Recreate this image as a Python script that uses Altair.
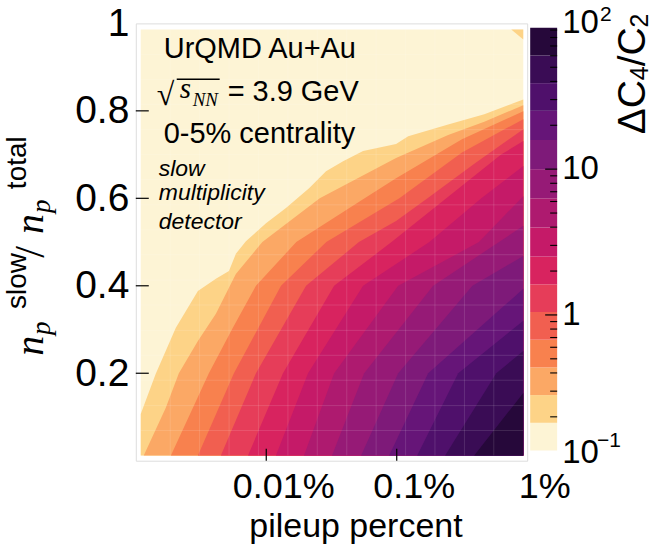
import altair as alt
import pandas as pd

SANS = "Liberation Sans"
SERIF = "Liberation Serif"

# ---------------- data ----------------
X_TICKS = [0.01, 0.1, 1.0]            # pileup percent
Y_TICKS = [0.2, 0.4, 0.6, 0.8, 1.0]
CB_MAJOR_TICKS = [1, 10]
CB_MINOR_TICKS = [0.2, 0.3, 0.4, 0.5, 0.6, 0.7, 0.8, 0.9,
                  2, 3, 4, 5, 6, 7, 8, 9,
                  20, 30, 40, 50, 60, 70, 80, 90]

# contour level edges, log10(dC4/C2)
LEVEL_EDGES_LOG = [-0.93, -0.74, -0.55, -0.36, -0.17, 0.02, 0.21, 0.40,
                   0.60, 0.80, 1.00, 1.20, 1.40, 1.59, 1.78, 1.97]
BAND_COLORS = ["#fdf4d5", "#fdd387", "#fba865", "#f8814e", "#f15f50",
               "#e63d59", "#d8235f", "#c51a68", "#ae1a6f", "#961a76",
               "#7e1a79", "#661578", "#4f106b", "#3a0c55", "#26083a"]

# extent of the contoured region: log10(pileup %) and n_p ratio
DATA_LOGX = [-2.962, -0.030]
DATA_Y = [0.012, 0.986]

# sampling mesh visible as faint lines
MESH_LOGX = [-2.736, -2.511, -2.285, -2.060, -1.834, -1.609, -1.383,
             -1.158, -0.932, -0.707, -0.481, -0.256]
MESH_Y = [0.069, 0.126, 0.184, 0.241, 0.298, 0.356, 0.413, 0.471, 0.528,
          0.585, 0.643, 0.700, 0.757, 0.815, 0.872, 0.929]

# contour boundaries (log10 pileup %, n_p slow / n_p total);
# band k lies below/right of boundary Bk
B01 = [(-2.962, 0.107), (-2.847, 0.199), (-2.693, 0.304), (-2.524, 0.388),
       (-2.386, 0.416), (-2.286, 0.434), (-2.233, 0.473), (-2.156, 0.502),
       (-2.002, 0.543), (-1.849, 0.578), (-1.672, 0.623), (-1.542, 0.662),
       (-1.411, 0.685), (-1.258, 0.708), (-1.005, 0.724), (-0.912, 0.742),
       (-0.606, 0.769), (-0.329, 0.792), (-0.030, 0.826)]
B02 = [(-2.939, 0.012), (-2.770, 0.121), (-2.670, 0.200), (-2.524, 0.274),
       (-2.386, 0.336), (-2.233, 0.427), (-2.030, 0.500), (-1.590, 0.600),
       (-1.005, 0.692), (-0.606, 0.745), (-0.329, 0.775), (-0.030, 0.813)]
B03 = [(-2.731, 0.012), (-2.440, 0.200), (-2.256, 0.304), (-2.079, 0.400),
       (-1.770, 0.500), (-1.246, 0.600), (-1.005, 0.646), (-0.500, 0.735),
       (-0.030, 0.799)]
B04 = [(-2.524, 0.012), (-2.248, 0.200), (-1.887, 0.400), (-1.540, 0.500),
       (-0.980, 0.600), (-0.500, 0.705), (-0.030, 0.781)]
B05 = [(-2.348, 0.012), (-2.079, 0.200), (-1.695, 0.400), (-1.290, 0.500),
       (-1.005, 0.548), (-0.764, 0.600), (-0.400, 0.680), (-0.030, 0.758)]
B06 = [(-2.140, 0.012), (-1.872, 0.200), (-1.480, 0.400), (-1.040, 0.500),
       (-0.620, 0.600), (-0.200, 0.700), (-0.030, 0.731)]
B07 = [(-1.926, 0.012), (-1.680, 0.200), (-1.258, 0.400), (-0.750, 0.500),
       (-0.352, 0.600), (-0.030, 0.674)]
B08 = [(-1.711, 0.012), (-1.480, 0.200), (-0.989, 0.400), (-0.370, 0.500),
       (-0.030, 0.605)]
B09 = [(-1.496, 0.012), (-1.250, 0.200), (-0.721, 0.400), (-0.030, 0.537)]
B10 = [(-1.273, 0.012), (-0.989, 0.200), (-0.420, 0.400), (-0.030, 0.468)]
B11 = [(-1.058, 0.012), (-0.759, 0.200), (-0.030, 0.393)]
B12 = [(-0.843, 0.012), (-0.529, 0.200), (-0.030, 0.320)]
B13 = [(-0.629, 0.012), (-0.237, 0.200), (-0.030, 0.251)]
B14 = [(-0.406, 0.012), (-0.030, 0.155)]
BOUNDARIES = [B01, B02, B03, B04, B05, B06, B07, B08, B09, B10, B11, B12, B13, B14]

# small band-1 patch in the top-right corner
CORNER = [(-0.122, 0.986), (-0.030, 0.963)]

# ---------------- scales / axes ----------------
XS = alt.Scale(type="log", domain=[0.001, 1.0])
YS = alt.Scale(domain=[0, 1], nice=False, zero=False)
XAX = alt.Axis(values=X_TICKS,
               labelExpr="datum.value < 0.05 ? '0.01%' : (datum.value < 0.5 ? '0.1%' : '1%')",
               ticks=False, tickSize=0, domain=False, grid=False, labelFlush=False,
               labelOverlap=False, labelBound=False,
               labelFont=SANS, labelFontSize=36, labelColor="black",
               labelPadding=9, labelOffset=17,
               title="pileup percent", titleFont=SANS, titleFontSize=34,
               titleFontWeight="normal", titleColor="black",
               titleX=220, titleY=76, titleBaseline="alphabetic", titleAlign="center")
YAX = alt.Axis(values=Y_TICKS,
               labelExpr="datum.value == 1 ? '1' : format(datum.value, '.1f')",
               ticks=False, tickSize=0, domain=False, grid=False, labelFlush=False,
               labelOverlap=False, labelBound=False,
               labelFont=SANS, labelFontSize=39, labelColor="black",
               labelPadding=7, title=None)

W, H = 392, 438
ONE = pd.DataFrame({"a": [0]})


def xenc():
    return alt.X("xv:Q", scale=XS, axis=XAX)


def yenc():
    return alt.Y("yv:Q", scale=YS, axis=YAX)


def txt(text, px, py, size, font=SANS, style="normal", angle=0,
        align="left", baseline="alphabetic"):
    return alt.Chart(ONE).mark_text(
        font=font, fontSize=size, fontStyle=style, angle=angle,
        align=align, baseline=baseline, color="black"
    ).encode(x=alt.value(px), y=alt.value(py), text=alt.value(text))


layers = []
bg = pd.DataFrame({"xv": [10 ** DATA_LOGX[0]], "xv2": [10 ** DATA_LOGX[1]],
                   "yv": [DATA_Y[0]], "yv2": [DATA_Y[1]]})
layers.append(alt.Chart(bg).mark_rect(color=BAND_COLORS[0]).encode(
    x=xenc(), x2="xv2:Q", y=yenc(), y2="yv2:Q"))

for k, B in enumerate(BOUNDARIES, start=1):
    df = pd.DataFrame({"xv": [10 ** p[0] for p in B],
                       "yv": [p[1] for p in B],
                       "yv2": [DATA_Y[0]] * len(B)})
    layers.append(alt.Chart(df).mark_area(color=BAND_COLORS[k], interpolate="linear").encode(
        x=xenc(), y=yenc(), y2="yv2:Q"))

cdf = pd.DataFrame({"xv": [10 ** p[0] for p in CORNER],
                    "yv": [p[1] for p in CORNER],
                    "yv2": [DATA_Y[1]] * len(CORNER)})
layers.append(alt.Chart(cdf).mark_area(color=BAND_COLORS[1]).encode(
    x=xenc(), y=yenc(), y2="yv2:Q"))

# faint sampling mesh
vm = pd.DataFrame({"xv": [10 ** v for v in MESH_LOGX], "yv": [DATA_Y[0]] * len(MESH_LOGX),
                   "yv2": [DATA_Y[1]] * len(MESH_LOGX)})
hm = pd.DataFrame({"yv": MESH_Y, "xv": [10 ** DATA_LOGX[0]] * len(MESH_Y),
                   "xv2": [10 ** DATA_LOGX[1]] * len(MESH_Y)})
layers.append(alt.Chart(vm).mark_rule(color="white", opacity=0.13, strokeWidth=1).encode(
    x=xenc(), y=yenc(), y2="yv2:Q"))
layers.append(alt.Chart(hm).mark_rule(color="white", opacity=0.13, strokeWidth=1).encode(
    y=yenc(), x=xenc(), x2="xv2:Q"))

# inward ticks
layers.append(alt.Chart(pd.DataFrame({"xv": X_TICKS[:-1]})).mark_rule(
    color="black", strokeWidth=1.2).encode(x=xenc(), y=alt.value(H), y2=alt.value(H - 12)))
layers.append(alt.Chart(pd.DataFrame({"yv": Y_TICKS[:-1]})).mark_rule(
    color="black", strokeWidth=1.2).encode(y=yenc(), x=alt.value(0), x2=alt.value(13)))

# annotations inside the plot
layers += [
    txt("UrQMD Au+Au", 28, 35, 29),
    txt("\u221a", 21, 82, 32, font=SERIF),
    txt("s", 44, 75, 29, font=SERIF, style="italic"),
    txt("NN", 57, 83, 19, font=SERIF, style="italic"),
    txt("= 3.9 GeV", 92, 78, 29),
    txt("0-5% centrality", 28, 120, 29),
    txt("slow", 23, 153, 23, style="italic"),
    txt("multiplicity", 23, 177, 23, style="italic"),
    txt("detector", 23, 206, 23, style="italic"),
]
layers.append(alt.Chart(ONE).mark_rule(color="black", strokeWidth=1.4).encode(
    x=alt.value(41), x2=alt.value(84), y=alt.value(56)))

# y-axis title  (n_p)^slow / (n_p)^total
layers += [
    txt("n", -93, 333, 40, font=SERIF, style="italic", angle=270),
    txt("p", -86, 312, 27, font=SERIF, style="italic", angle=270),
    txt("slow", -110, 286, 28, angle=270),
    txt("/", -92, 229, 42, font=SERIF, angle=270, align="center"),
    txt("n", -93, 211, 40, font=SERIF, style="italic", angle=270),
    txt("p", -86, 190, 27, font=SERIF, style="italic", angle=270),
    txt("total", -110, 166, 28, angle=270),
]

main = alt.layer(*layers).properties(width=W, height=H)

# ---------------- colour bar ----------------
CBW = 27
CBS = alt.Scale(type="log", domain=[0.1, 100])
bands = pd.DataFrame({"lo": [10 ** e for e in LEVEL_EDGES_LOG[:-1]],
                      "hi": [10 ** e for e in LEVEL_EDGES_LOG[1:]],
                      "c": BAND_COLORS})
cb_layers = [
    alt.Chart(bands).mark_rect().encode(
        y=alt.Y("lo:Q", scale=CBS, axis=None), y2="hi:Q",
        x=alt.value(0), x2=alt.value(CBW),
        color=alt.Color("c:N", scale=None)),
    alt.Chart(pd.DataFrame({"v": CB_MINOR_TICKS})).mark_rule(color="black", strokeWidth=1.1).encode(
        y=alt.Y("v:Q", scale=CBS, axis=None), x=alt.value(CBW), x2=alt.value(CBW - 7)),
    alt.Chart(pd.DataFrame({"v": CB_MAJOR_TICKS})).mark_rule(color="black", strokeWidth=1.2).encode(
        y=alt.Y("v:Q", scale=CBS, axis=None), x=alt.value(CBW), x2=alt.value(CBW - 12)),
]
lab = pd.DataFrame({"v": [100, 10, 1, 0.1], "t": ["10", "10", "1", "10"],
                    "dy": [0, 0, 0, -8]})
for _, r in lab.iterrows():
    cb_layers.append(alt.Chart(pd.DataFrame({"v": [r.v]})).mark_text(
        font=SANS, fontSize=33, align="left", baseline="middle", color="black", dy=float(r.dy)
    ).encode(y=alt.Y("v:Q", scale=CBS, axis=None), x=alt.value(32), text=alt.value(r.t)))
cb_layers.append(alt.Chart(pd.DataFrame({"v": [100]})).mark_text(
    font=SANS, fontSize=21, align="left", baseline="middle", color="black", dy=-8
).encode(y=alt.Y("v:Q", scale=CBS, axis=None), x=alt.value(70), text=alt.value("2")))
cb_layers.append(alt.Chart(pd.DataFrame({"v": [0.1]})).mark_text(
    font=SANS, fontSize=21, align="left", baseline="middle", color="black", dy=-20
).encode(y=alt.Y("v:Q", scale=CBS, axis=None), x=alt.value(67), text=alt.value("\u22121")))
cb_layers += [
    txt("\u0394C", 115, 111, 39, angle=270),
    txt("4", 118, 57, 25, angle=270),
    txt("/C", 115, 43, 39, angle=270),
    txt("2", 118, 4, 25, angle=270),
]
cbar = alt.layer(*cb_layers).properties(
    width=CBW, height=H, view=alt.ViewBackground(strokeOpacity=0))

chart = alt.hconcat(main, cbar, spacing=3, bounds="flush").properties(
    padding={"left": 3, "top": 3, "right": 0, "bottom": 0}
).configure_view(stroke="#111111", strokeWidth=1.3).configure(background="white")

chart.save("out.html", embed_options={"renderer": "svg", "actions": False})
